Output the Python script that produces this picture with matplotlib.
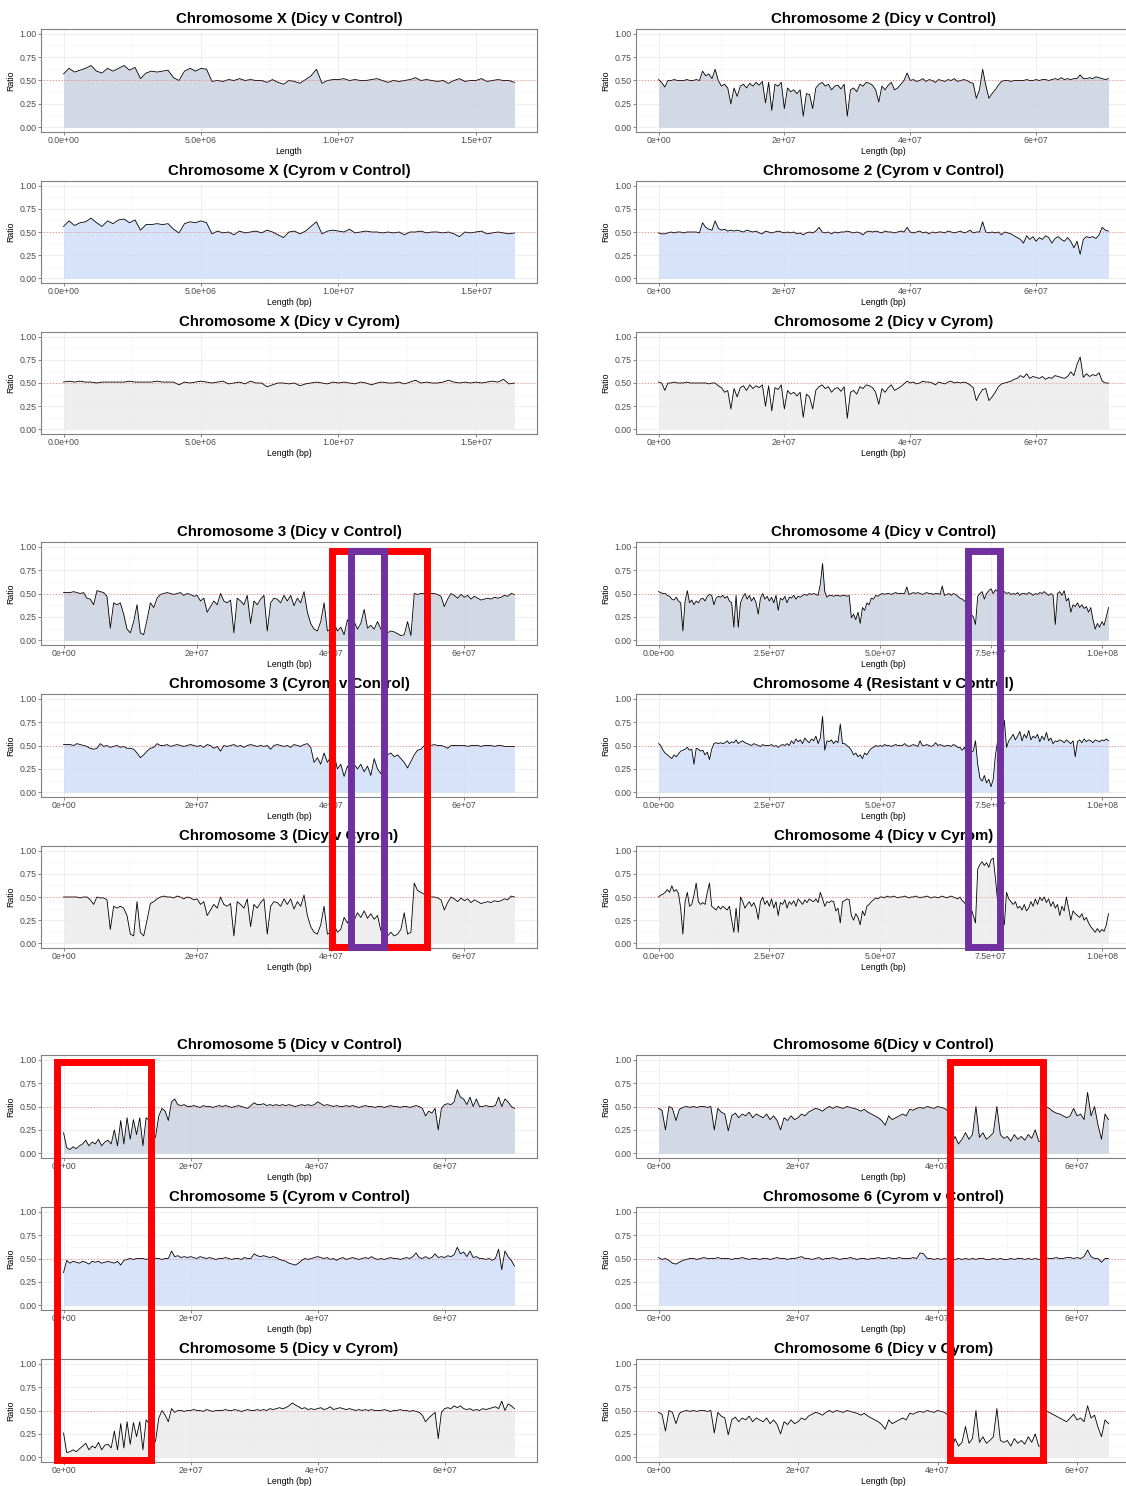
import numpy as np
import matplotlib
matplotlib.use('Agg')
import matplotlib.pyplot as plt
from matplotlib.patches import Rectangle

plt.rcParams['font.family'] = ['Liberation Sans', 'DejaVu Sans']

W, H = 1126, 1486

# allele ratio per window, in hundredths (one row = 10 windows)
# chromosome X, windows every 0.2 Mb
x_dicy_ctrl = """
57 63 59 61 63 66 60 58 63 60
63 66 61 64 52 58 60 59 60 61
53 50 60 63 60 63 62 49 50 49
51 50 52 50 51 50 50 48 51 48
46 50 49 47 51 55 62 47 50 51
51 52 50 51 50 50 51 52 50 48
50 49 50 51 53 50 51 50 49 50
47 50 52 49 50 50 52 49 50 51
50 50 48"""
x_cyrom_ctrl = """
56 62 57 60 61 65 60 56 62 59
63 64 60 63 52 58 58 59 58 59
53 49 59 61 60 62 60 48 51 49
50 47 51 49 50 51 49 52 50 47
44 50 51 48 51 56 61 48 51 52
51 50 53 49 50 51 50 50 49 50
49 50 47 50 50 51 49 50 50 49
50 48 45 50 49 50 51 48 49 50
49 48 49"""
x_dicy_cyrom = """
51 52 51 52 51 51 50 51 51 51
51 51 52 51 51 51 51 52 51 51
51 48 51 50 51 52 51 50 51 52
49 50 51 49 52 50 50 46 48 50
50 49 50 47 49 50 51 50 49 51
50 51 50 49 51 50 48 50 51 50
50 51 49 51 53 50 51 50 50 51
53 51 50 51 50 51 50 51 52 51
54 49 50"""

# chromosomes 2-6, windows every 0.5 Mb
c2_dicy_ctrl = """
51 48 43 50 50 51 50 50 50 51
50 50 51 50 60 55 57 52 62 50
44 46 42 25 42 33 44 46 42 47
44 48 45 49 26 48 18 46 44 48
20 42 38 40 36 40 12 36 35 20
42 46 48 44 46 40 44 45 41 46
12 40 42 38 46 44 48 47 45 40
27 44 40 45 48 40 42 46 50 58
50 51 49 50 52 49 51 50 48 51
50 49 51 50 52 49 50 51 50 48
47 31 40 62 45 31 36 40 45 49
50 50 49 50 50 50 50 51 50 50
51 50 51 51 50 51 52 51 53 51
52 51 52 52 56 52 52 53 52 54
53 52 51 52"""
c2_cyrom_ctrl = """
49 48 48 49 50 49 50 50 49 50
50 50 50 49 60 55 53 52 62 54
52 53 51 52 51 52 51 50 52 51
50 51 49 48 51 50 49 50 51 50
49 50 49 50 48 49 47 49 50 49
51 55 50 49 50 48 50 49 50 50
51 50 49 50 49 47 50 51 50 51
50 49 51 50 50 49 50 51 50 55
50 49 50 51 49 50 48 50 49 50
50 49 51 50 49 50 51 49 50 52
49 50 50 61 50 49 50 49 50 47
50 49 48 46 44 42 38 46 42 45
40 44 42 46 44 38 43 45 42 40
44 40 33 40 26 42 45 44 45 43
47 55 52 51"""
c2_dicy_cyrom = """
51 50 42 50 50 51 50 50 50 51
50 50 50 50 50 50 49 50 50 47
45 40 42 22 44 35 45 47 42 48
44 47 45 48 25 47 20 45 43 48
22 42 38 40 36 40 13 38 35 22
42 46 48 44 46 40 44 45 41 46
12 40 42 38 46 44 48 47 45 40
27 44 40 45 48 42 44 46 49 52
50 51 49 50 52 51 51 50 48 51
50 49 51 52 50 51 50 51 50 48
45 31 38 43 44 31 35 40 46 49
50 51 52 54 55 58 56 60 55 57
56 55 57 54 56 55 58 57 56 55
57 62 58 70 78 56 60 57 59 58
61 52 50 50"""

c3_dicy_ctrl = """
51 51 51 52 51 50 51 45 44 38
53 52 51 47 13 40 38 40 28 12
8 20 38 8 6 22 40 35 45 49
50 51 50 49 50 51 48 50 49 47
48 42 45 30 36 42 38 50 42 40
43 8 45 42 38 48 18 42 38 44
48 10 40 45 44 40 48 42 48 37
45 40 52 30 18 12 10 20 40 10
12 18 10 14 6 22 15 20 12 18
33 13 16 12 20 12 13 8 10 9
7 5 6 20 5 50 49 50 50 50
50 50 49 47 36 44 50 48 45 49
46 48 44 47 45 43 44 45 44 46
45 46 48 47 50 49"""
c3_cyrom_ctrl = """
51 51 51 50 52 51 50 49 47 46
47 52 49 50 48 49 50 48 49 47
47 46 42 37 40 44 47 48 52 50
50 51 49 50 51 50 49 50 51 50
49 50 48 51 50 47 49 44 50 49
50 51 49 50 48 50 51 50 49 50
49 50 46 50 51 50 49 50 48 51
50 49 51 52 48 32 37 30 42 32
38 40 25 30 17 28 22 30 25 30
22 28 18 36 25 20 35 40 42 38
40 36 32 26 33 40 45 46 50 50
50 51 50 50 49 47 50 50 50 50
50 49 50 50 50 49 50 50 50 49
50 50 49 49 49 49"""
c3_dicy_cyrom = """
50 50 50 50 50 49 50 50 47 42
50 49 49 47 15 40 38 40 38 30
10 8 45 12 8 25 43 45 48 50
51 50 50 49 51 50 48 50 49 47
48 42 45 30 36 42 38 50 42 40
43 8 45 42 38 48 18 42 38 44
48 10 40 45 44 40 48 42 48 37
45 40 52 30 18 12 10 20 40 10
12 20 12 15 28 22 30 25 33 28
35 27 32 26 30 14 10 8 12 8
10 15 33 10 12 65 57 55 53 50
50 50 49 47 36 44 50 48 45 49
46 48 44 47 45 43 44 45 44 46
45 46 48 47 51 50"""

c4_dicy_ctrl = """
52 51 50 50 48 47 44 43 46 42
40 10 42 53 40 43 38 42 40 44
45 42 47 49 48 38 45 47 46 48
45 47 42 40 14 48 14 40 46 50
44 48 42 46 40 28 45 50 44 47
42 46 40 48 32 45 43 47 40 46
45 48 44 47 46 48 49 48 50 49
50 49 48 60 82 52 46 48 48 47
48 48 47 48 48 47 48 24 28 22
30 18 35 32 40 38 45 44 48 47
49 50 49 50 50 49 50 51 50 50
50 50 57 49 50 51 50 51 50 49
50 51 50 50 49 50 50 49 58 48
49 50 48 50 49 47 45 44 42 40
35 28 25 17 47 50 52 44 50 53
55 50 54 52 55 50 52 50 51 49
50 49 51 48 50 50 49 51 50 48
50 49 51 50 52 50 48 50 48 17
50 52 48 53 42 45 30 38 36 40
35 38 34 36 30 35 22 12 18 14
20 16 25 35"""
c4_resist_ctrl = """
52 50 45 42 40 38 36 40 38 41
44 45 46 48 45 46 30 47 46 44
45 40 43 35 46 52 53 52 53 52
53 55 52 54 53 56 52 54 55 53
52 51 50 52 51 50 49 51 50 50
50 51 49 50 48 50 51 50 52 50
55 52 57 54 56 52 58 55 53 57
55 60 52 58 81 45 55 54 56 52
55 53 73 52 52 50 48 45 40 42
38 40 36 42 40 44 47 48 50 49
50 49 51 50 50 49 50 51 50 50
50 52 50 49 50 51 50 49 55 50
50 51 50 49 50 53 50 51 50 49
50 50 49 51 50 48 48 45 48 42
45 43 44 55 30 15 12 18 10 14
6 14 40 55 52 58 77 48 55 58
62 56 60 65 55 62 58 66 56 60
58 62 54 60 56 64 55 58 52 55
54 56 55 53 56 54 52 55 38 54
56 53 57 54 56 55 53 56 55 54
56 55 57 55"""
c4_dicy_cyrom = """
50 52 53 55 58 55 62 56 58 54
38 10 45 55 40 42 52 65 45 42
44 42 55 65 40 38 36 40 37 40
38 36 40 25 12 38 12 50 45 38
42 45 40 44 38 26 45 50 42 46
40 48 38 45 30 44 42 47 38 45
42 46 40 48 45 42 47 44 48 46
45 48 44 55 48 40 45 44 46 45
35 38 22 45 46 48 47 30 25 32
28 20 35 30 40 42 45 47 49 48
50 50 49 51 50 50 51 50 49 50
50 51 50 49 50 50 51 50 49 50
50 51 50 49 50 50 49 50 51 50
49 50 51 50 49 48 50 46 44 40
42 38 30 22 80 85 88 84 87 82
90 92 70 45 50 35 20 55 48 45
42 45 38 40 36 42 35 38 45 40
48 42 50 46 50 44 48 40 45 38
42 30 40 35 50 38 25 35 32 30
28 32 25 28 22 18 15 12 16 12
15 13 20 32"""

c5_dicy_ctrl = """
22 6 4 7 5 8 10 14 8 12
10 15 8 12 14 10 25 8 35 10
38 15 36 20 38 8 38 35 10 18
40 48 45 35 55 58 52 51 52 50
50 51 50 49 51 50 50 49 50 51
50 51 50 49 50 51 50 49 48 51
54 52 52 53 51 52 51 52 51 52
51 52 51 50 51 52 51 52 51 52
55 53 51 52 51 50 51 50 50 51
50 51 50 49 50 51 50 50 49 50
50 49 50 51 50 50 49 50 50 49
50 51 50 48 40 45 43 48 25 48
52 53 52 55 68 60 58 52 60 50
58 50 50 51 50 50 51 60 50 58
55 50 48"""
c5_cyrom_ctrl = """
35 48 45 47 46 45 47 46 44 47
46 47 45 46 47 46 45 47 43 48
49 50 49 50 50 50 49 50 50 50
50 49 50 50 58 52 53 51 52 51
52 51 50 52 51 50 51 50 49 50
50 51 50 49 50 50 49 51 50 50
55 53 52 53 52 51 52 51 49 48
47 45 44 43 45 48 50 49 50 51
52 51 50 51 49 50 48 50 51 49
50 51 50 49 50 51 50 52 50 49
50 49 50 51 50 50 49 50 51 50
52 56 51 50 52 50 51 55 51 52
51 53 52 54 62 55 57 52 58 51
52 50 50 49 50 48 50 60 38 58
52 48 42"""
c5_dicy_cyrom = """
26 5 6 8 6 9 12 15 8 12
10 16 8 13 14 10 28 8 36 10
38 14 37 22 38 8 40 36 10 18
42 50 45 38 52 48 50 50 49 50
50 51 50 50 49 51 50 49 50 50
50 51 50 50 51 50 49 50 51 50
50 51 50 51 50 52 51 52 53 52
53 55 58 56 54 52 53 51 52 51
52 53 51 52 54 51 52 53 52 51
52 51 50 51 50 51 50 51 50 50
50 51 50 49 50 50 51 50 50 49
50 49 48 45 38 42 45 48 20 48
52 53 52 55 53 55 52 51 52 50
51 50 52 51 52 53 54 52 60 50
57 55 52"""

c6_dicy_ctrl = """
48 46 25 50 48 35 47 49 50 49
50 49 50 50 49 50 25 48 44 42
24 40 43 38 42 40 44 38 42 40
38 42 36 40 35 25 38 35 40 36
38 42 40 44 46 48 47 45 48 50
48 50 49 48 50 49 48 47 45 47
44 42 40 38 35 30 40 36 38 40
42 40 47 46 48 49 48 50 49 48
50 49 48 45 10 18 10 15 22 15
20 50 17 22 15 18 22 50 20 16
18 13 20 15 18 14 20 16 25 13
12 50 48 45 43 42 40 38 40 48
40 42 36 65 40 50 30 15 42 36"""
c6_cyrom_ctrl = """
51 49 50 48 45 44 46 48 49 50
50 49 50 51 50 50 50 51 50 50
50 49 50 50 51 50 49 50 50 49
50 50 49 50 51 50 50 49 50 50
51 52 50 50 49 50 51 49 50 50
51 50 49 50 50 51 50 49 50 50
49 50 50 51 50 50 51 50 50 51
50 50 50 51 50 56 55 50 50 49
50 49 50 49 50 49 50 49 50 49
50 49 50 50 49 49 50 49 50 49
49 50 49 50 50 49 50 49 50 49
50 51 50 50 51 50 50 51 51 50
51 50 52 59 52 50 50 46 50 50"""
c6_dicy_cyrom = """
48 46 28 50 48 36 47 49 50 49
50 49 50 50 49 50 26 48 44 42
24 40 43 38 42 40 44 38 42 40
38 42 36 40 35 25 38 35 40 36
38 42 40 44 46 48 47 45 48 50
48 50 49 48 50 49 48 47 45 47
44 42 40 38 35 30 40 36 38 40
42 40 47 46 48 49 48 50 49 48
50 49 48 45 8 20 12 16 33 15
20 50 16 22 15 18 22 52 18 16
18 12 20 15 18 14 22 16 25 12
12 50 48 46 44 42 40 38 42 46
40 42 38 55 42 45 32 22 40 36"""

# x axis breaks per chromosome
ticks_x = [0, 5e6, 1e7, 1.5e7]
labels_x = ['0.0e+00', '5.0e+06', '1.0e+07', '1.5e+07']
ticks_std = [0, 2e7, 4e7, 6e7]
labels_std = ['0e+00', '2e+07', '4e+07', '6e+07']
ticks_4 = [0, 2.5e7, 5e7, 7.5e7, 1e8]
labels_4 = ['0.0e+00', '2.5e+07', '5.0e+07', '7.5e+07', '1.0e+08']

fills = ['#cbd3e0', '#cfdff8', '#ececec']

# layout in pixels
cols_px = [(41, 537), (636, 1131)]
rows_px = [(29, 132), (181, 283), (332, 434),
           (542, 645), (694, 797), (846, 948),
           (1055, 1158), (1207, 1310), (1359, 1462)]

panels = [
    (0, 0, 'Chromosome X (Dicy v Control)', 'Length', x_dicy_ctrl, 0.2, ticks_x, labels_x),
    (0, 1, 'Chromosome X (Cyrom v Control)', 'Length (bp)', x_cyrom_ctrl, 0.2, ticks_x, labels_x),
    (0, 2, 'Chromosome X (Dicy v Cyrom)', 'Length (bp)', x_dicy_cyrom, 0.2, ticks_x, labels_x),
    (1, 0, 'Chromosome 2 (Dicy v Control)', 'Length (bp)', c2_dicy_ctrl, 0.5, ticks_std, labels_std),
    (1, 1, 'Chromosome 2 (Cyrom v Control)', 'Length (bp)', c2_cyrom_ctrl, 0.5, ticks_std, labels_std),
    (1, 2, 'Chromosome 2 (Dicy v Cyrom)', 'Length (bp)', c2_dicy_cyrom, 0.5, ticks_std, labels_std),
    (0, 3, 'Chromosome 3 (Dicy v Control)', 'Length (bp)', c3_dicy_ctrl, 0.5, ticks_std, labels_std),
    (0, 4, 'Chromosome 3 (Cyrom v Control)', 'Length (bp)', c3_cyrom_ctrl, 0.5, ticks_std, labels_std),
    (0, 5, 'Chromosome 3 (Dicy v Cyrom)', 'Length (bp)', c3_dicy_cyrom, 0.5, ticks_std, labels_std),
    (1, 3, 'Chromosome 4 (Dicy v Control)', 'Length (bp)', c4_dicy_ctrl, 0.5, ticks_4, labels_4),
    (1, 4, 'Chromosome 4 (Resistant v Control)', 'Length (bp)', c4_resist_ctrl, 0.5, ticks_4, labels_4),
    (1, 5, 'Chromosome 4 (Dicy v Cyrom)', 'Length (bp)', c4_dicy_cyrom, 0.5, ticks_4, labels_4),
    (0, 6, 'Chromosome 5 (Dicy v Control)', 'Length (bp)', c5_dicy_ctrl, 0.5, ticks_std, labels_std),
    (0, 7, 'Chromosome 5 (Cyrom v Control)', 'Length (bp)', c5_cyrom_ctrl, 0.5, ticks_std, labels_std),
    (0, 8, 'Chromosome 5 (Dicy v Cyrom)', 'Length (bp)', c5_dicy_cyrom, 0.5, ticks_std, labels_std),
    (1, 6, 'Chromosome 6(Dicy v Control)', 'Length (bp)', c6_dicy_ctrl, 0.5, ticks_std, labels_std),
    (1, 7, 'Chromosome 6 (Cyrom v Control)', 'Length (bp)', c6_cyrom_ctrl, 0.5, ticks_std, labels_std),
    (1, 8, 'Chromosome 6 (Dicy v Cyrom)', 'Length (bp)', c6_dicy_cyrom, 0.5, ticks_std, labels_std),
]

fig = plt.figure(figsize=(W / 100, H / 100), dpi=100)

for col, row, title, xlab, data, step, ticks, labels in panels:
    x0, x1 = cols_px[col]
    y0, y1 = rows_px[row]
    ax = fig.add_axes([x0 / W, 1 - y1 / H, (x1 - x0) / W, (y1 - y0) / H])
    y = np.array(data.split(), dtype=float) / 100
    x = np.arange(len(y)) * step * 1e6
    ax.fill_between(x, 0, y, color=fills[row % 3], alpha=0.85, lw=0, zorder=2)
    ax.plot(x, y, color='black', lw=0.6, zorder=3)
    ax.axhline(0.5, color='red', ls=(0, (1, 2.5)), lw=0.6, alpha=0.55, zorder=4)
    ax.set_xticks(ticks)
    ax.set_xticklabels(labels)
    step_t = ticks[1] - ticks[0]
    ax.set_xticks(np.arange(-step_t / 2, ticks[-1] + step_t, step_t), minor=True)
    ax.set_yticks([0, 0.25, 0.5, 0.75, 1.0])
    ax.set_yticklabels(['0.00', '0.25', '0.50', '0.75', '1.00'])
    ax.set_yticks([0.125, 0.375, 0.625, 0.875], minor=True)
    # ggplot style 5% expansion, set after the ticks so they don't widen it
    span = x[-1]
    ax.set_xlim(-0.05 * span, 1.05 * span)
    ax.set_ylim(-0.05, 1.05)
    ax.grid(which='major', color='#ebebeb', lw=0.6)
    ax.grid(which='minor', color='#f4f4f4', lw=0.4)
    ax.set_axisbelow(True)
    ax.tick_params(which='major', length=2, width=0.5, color='#555555',
                   labelsize=6.3, labelcolor='#4d4d4d', pad=1)
    ax.tick_params(which='minor', length=0)
    for s in ax.spines.values():
        s.set_color('#808080')
        s.set_linewidth(0.8)
    ax.set_title(title, fontsize=10.8, fontweight='bold', pad=4.5)
    ax.set_xlabel(xlab, fontsize=6.3, labelpad=1.5)
    ax.set_ylabel('Ratio', fontsize=6.3, labelpad=3)

# highlight boxes drawn over the figure (pixel centre lines)
boxes = [
    ((331.5, 550.5, 426.5, 946.5), '#ff0000'),
    ((350.5, 550.5, 383.5, 946.5), '#7030a0'),
    ((967.5, 550.5, 999.5, 946.5), '#7030a0'),
    ((56.5, 1061.5, 150.5, 1459.5), '#ff0000'),
    ((949.5, 1061.5, 1042.5, 1459.5), '#ff0000'),
]
for (bx0, by0, bx1, by1), c in boxes:
    fig.add_artist(Rectangle((bx0 / W, 1 - by1 / H), (bx1 - bx0) / W, (by1 - by0) / H,
                             transform=fig.transFigure, fill=False, ec=c, lw=5,
                             joinstyle='miter', zorder=10))

fig.savefig('out.png', dpi=100)
